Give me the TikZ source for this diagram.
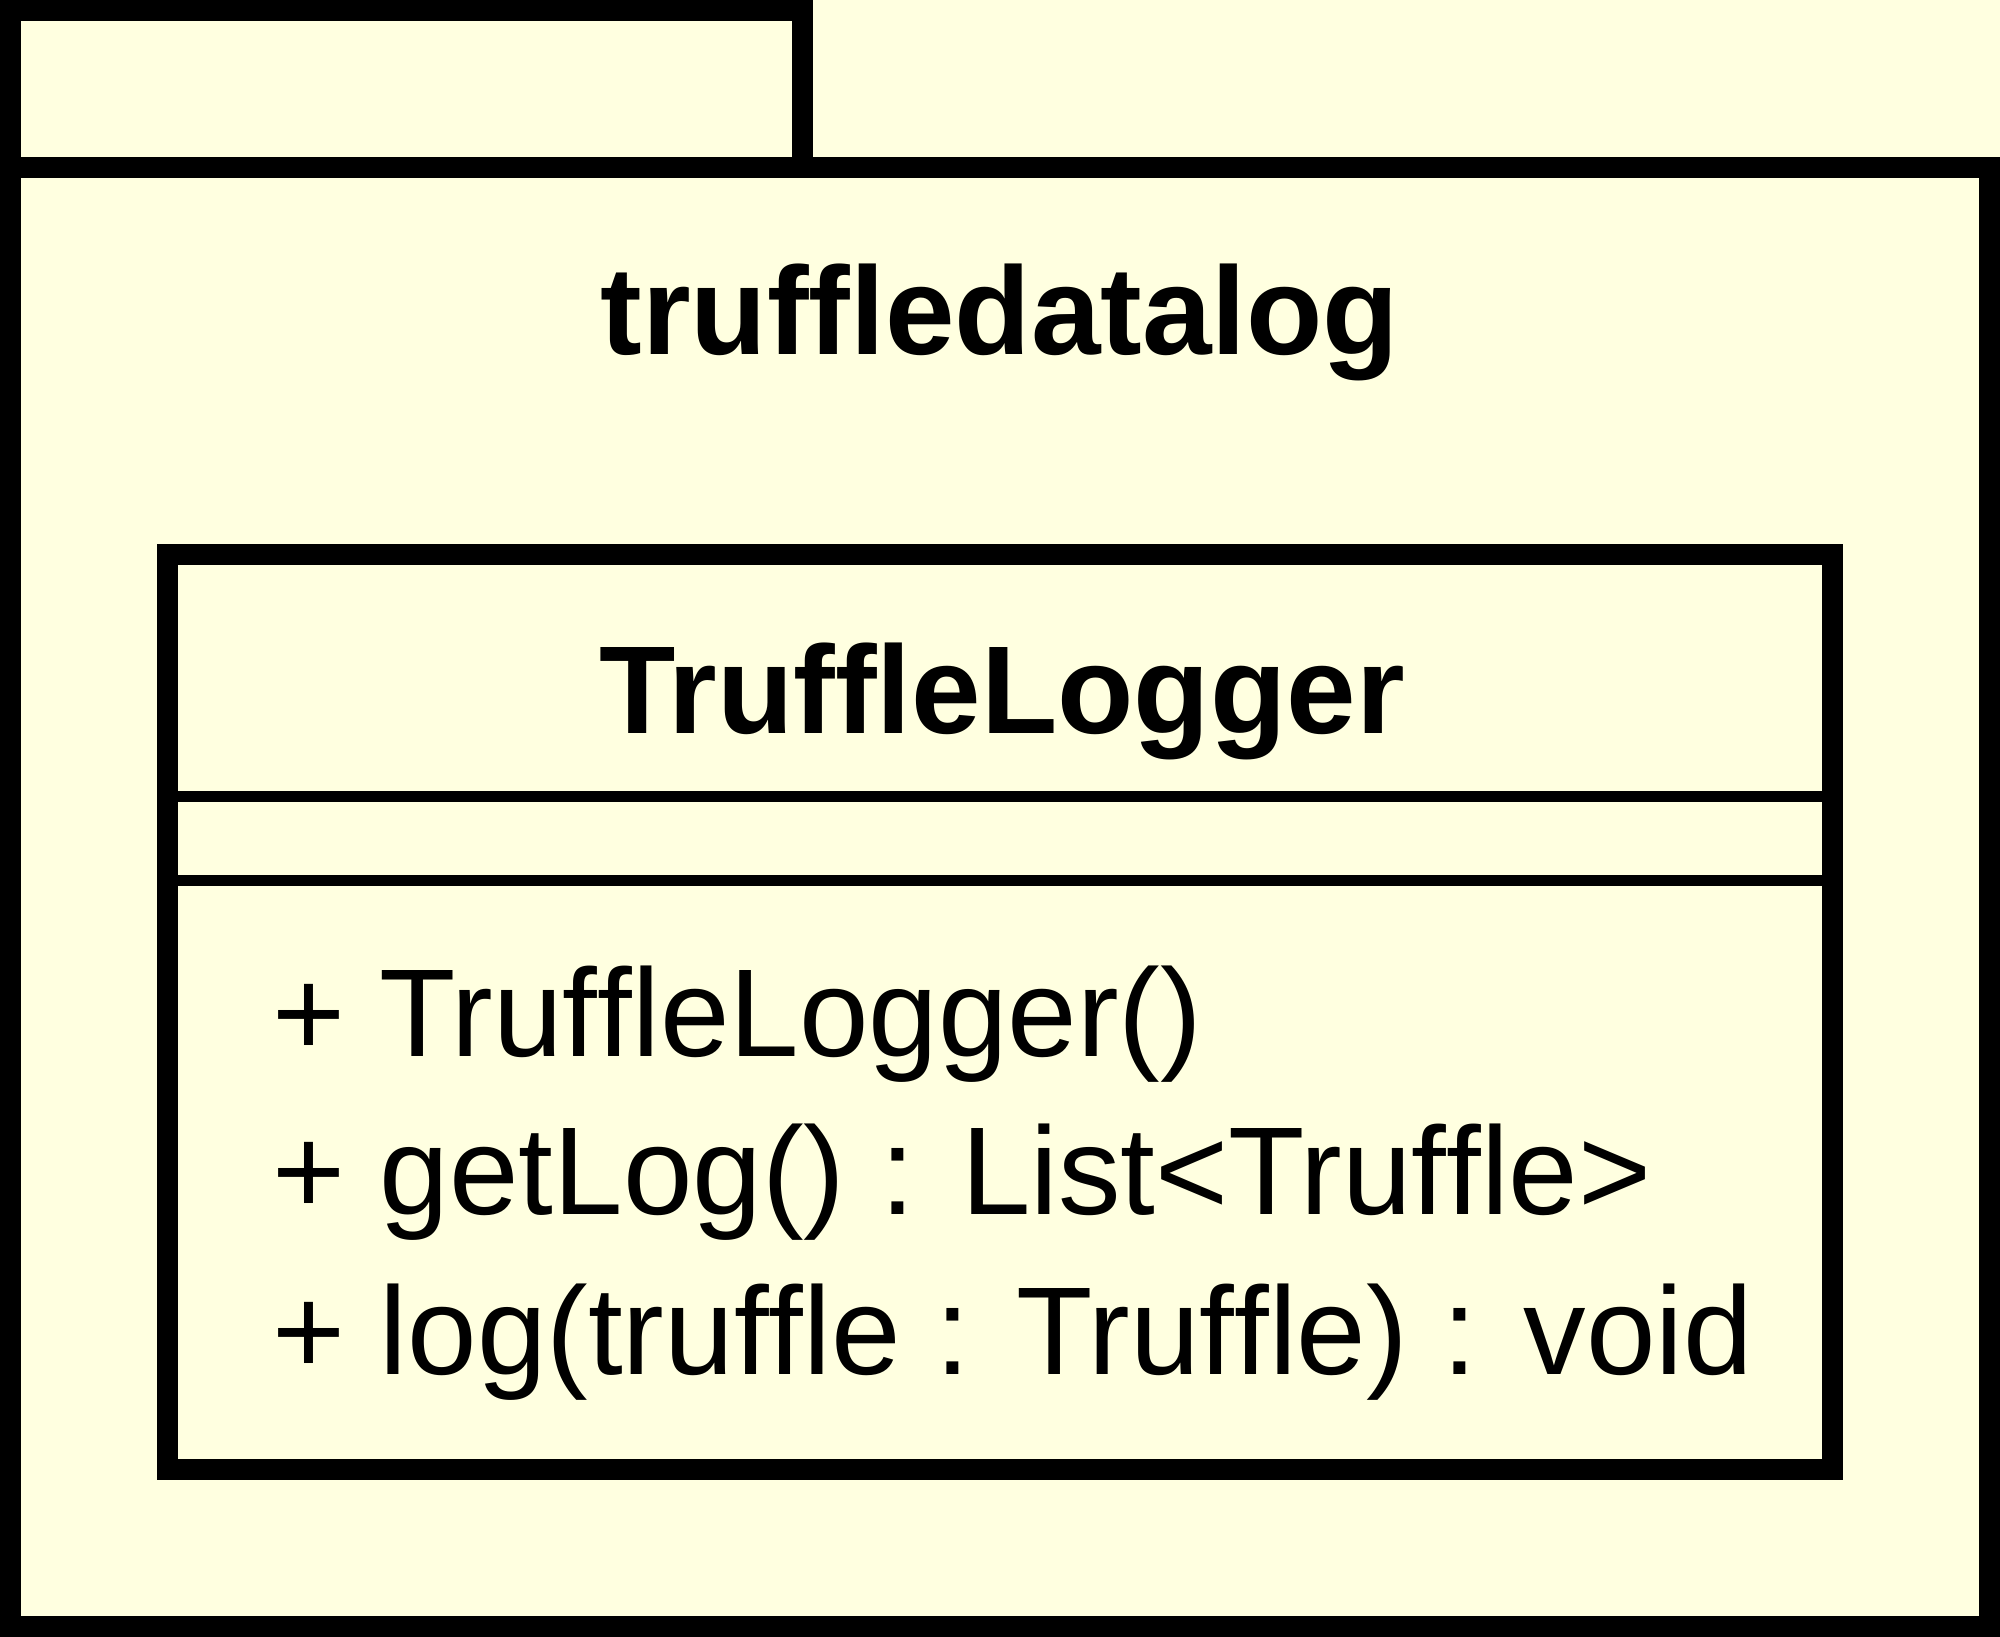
\documentclass[tikz,border=0pt]{standalone}
\usepackage{fontspec}
\setmainfont[Ligatures={NoCommon}, RawFeature={-liga;-clig;-dlig}]{Liberation Sans}
\definecolor{pkgfill}{HTML}{FFFFE0}
\tikzset{
  thickline/.style={line width=21pt, line join=miter, line cap=butt},
  thinline/.style={line width=11pt, line cap=butt},
  titletext/.style={anchor=base, inner sep=0pt, font=\bfseries\fontsize{125}{150}\selectfont},
  membertext/.style={anchor=base west, inner sep=0pt, font=\fontsize{125}{150}\selectfont}
}
\begin{document}
\begin{tikzpicture}[x=1pt,y=-1pt]
\fill[pkgfill] (0,0) rectangle (2000,1637);
\useasboundingbox (0,0) rectangle (2000,1637);
% package body and tab
\draw[thickline] (10.5,167.5) rectangle (1989.5,1626.5);
\draw[thickline] (10.5,167.5) -- (10.5,10.5) -- (802,10.5) -- (802,167.5);
% class box
\draw[thickline] (167.5,554.5) rectangle (1832.5,1469.5);
\draw[thinline] (178,796.5) -- (1822,796.5);
\draw[thinline] (178,880.5) -- (1822,880.5);
% texts
\node[titletext] (pkg) at (1000,355) {truf\kern0ptf\kern0ptledatalog};
\node[titletext] (cls) at (1002,733) {Truf\kern0ptf\kern0ptleLogger};
\node[membertext] (m1) at (272,1056) {+ Truf\kern0ptf\kern0ptleLogger()};
\node[membertext] (m2) at (272,1214) {+ getLog() : List<Truf\kern0ptf\kern0ptle>};
\node[membertext] (m3) at (272,1374) {+ log(truf\kern0ptf\kern0ptle : Truf\kern0ptf\kern0ptle) : void};
\end{tikzpicture}
\end{document}
